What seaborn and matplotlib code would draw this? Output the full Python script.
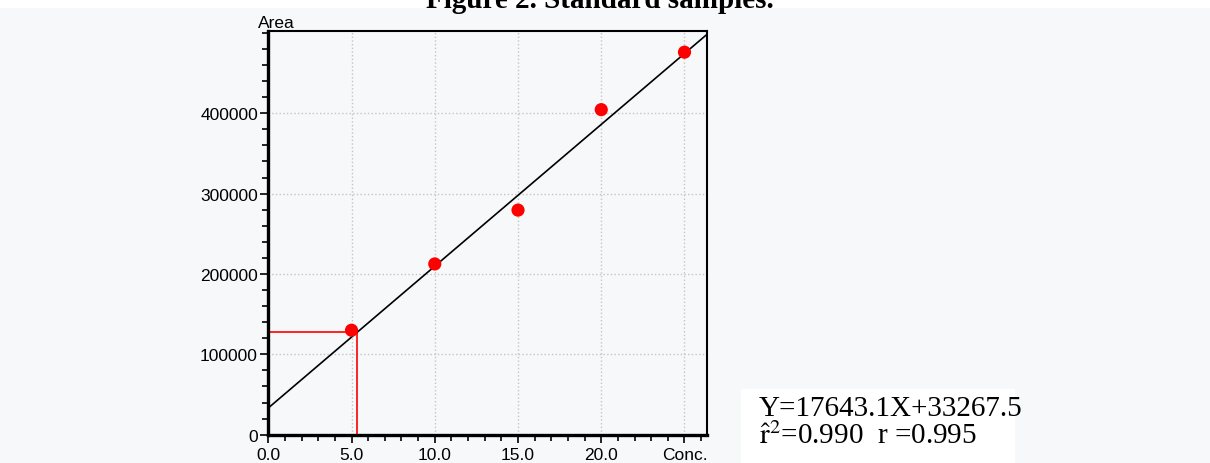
import matplotlib
matplotlib.use("Agg")
from matplotlib import pyplot as plt
from matplotlib.ticker import MultipleLocator, FixedLocator
import matplotlib.patches as mpatches
import pandas as pd
import numpy as np
import seaborn as sns

# standard samples (concentration vs peak area)
conc = [5.0, 10.0, 15.0, 20.0, 25.0]
area = [130000, 212500, 279500, 404500, 476000]

# fitted calibration line from the report
slope = 17643.1
intercept = 33267.5
r2 = 0.990
r = 0.995

# unknown sample
sample_conc = 5.32
sample_area = 127300

x_ticks = [0, 5, 10, 15, 20, 25]
x_labels = ["0.0", "5.0", "10.0", "15.0", "20.0", "Conc."]
y_ticks = [0, 100000, 200000, 300000, 400000]

xmax = 26.37
ymax = 502000

bg = "#f7f8fa"

sns.set_style("ticks")
plt.rcParams["font.family"] = ["Liberation Sans", "DejaVu Sans"]
plt.rcParams["mathtext.fontset"] = "stix"
plt.rcParams["text.color"] = "black"
plt.rcParams["xtick.color"] = "black"
plt.rcParams["ytick.color"] = "black"

fig = plt.figure(figsize=(12.1, 4.64), dpi=100)
fig.patch.set_facecolor("white")
fig.patches.append(mpatches.Rectangle((0, 0), 1, 1 - 9 / 464, transform=fig.transFigure,
                                      facecolor=bg, edgecolor="none", zorder=-10))
fig.patches.append(mpatches.Rectangle((741 / 1210, 0), (1015 - 741) / 1210, 74 / 464,
                                      transform=fig.transFigure, facecolor="white",
                                      edgecolor="none", zorder=-9))

ax = fig.add_axes([268.3 / 1210, 1 - 435.7 / 464, (707.3 - 268.3) / 1210, (435.7 - 32.3) / 464])
ax.set_facecolor(bg)

# regression line
fit = pd.DataFrame({"x": [0, xmax]})
fit["y"] = slope * fit["x"] + intercept
sns.lineplot(data=fit, x="x", y="y", color="black", linewidth=1.2, ax=ax, zorder=3)

# sample lines
ax.plot([0, sample_conc], [sample_area, sample_area], color="red", linewidth=1.2, zorder=2)
ax.plot([sample_conc, sample_conc], [0, sample_area], color="red", linewidth=1.2, zorder=2)

df = pd.DataFrame({"conc": conc, "area": area})
sns.scatterplot(data=df, x="conc", y="area", color="red", s=90, edgecolor="none", ax=ax, zorder=4)

ax.set_xlim(0, xmax)
ax.set_ylim(0, ymax)
ax.xaxis.set_major_locator(FixedLocator(x_ticks))
ax.set_xticklabels(x_labels)
ax.xaxis.set_minor_locator(MultipleLocator(1))
ax.yaxis.set_major_locator(FixedLocator(y_ticks))
ax.set_yticklabels([str(v) for v in y_ticks])
ax.yaxis.set_minor_locator(MultipleLocator(20000))
ax.tick_params(axis="both", which="major", length=6, width=1.2, labelsize=12.5, color="black",
               labelcolor="black")
ax.tick_params(axis="both", which="minor", length=4, width=1.2, color="black")
ax.tick_params(axis="y", which="major", pad=1.5)
ax.tick_params(axis="x", which="major", pad=3)
ax.set_xlabel("")
ax.set_ylabel("")

ax.grid(True, which="major", linestyle=":", color="#c4c4c4", linewidth=1)
ax.set_axisbelow(True)

for side in ["left", "bottom"]:
    ax.spines[side].set_linewidth(2.4)
for side in ["top", "right"]:
    ax.spines[side].set_linewidth(1.5)
for s in ax.spines.values():
    s.set_color("black")

fig.text(258 / 1210, 1 - 28.5 / 464, "Area", ha="left", va="baseline", fontsize=12.5, color="black")

fig.text(600 / 1210, 1 - 8 / 464, "Figure 2. Standard samples.", ha="center", va="baseline",
         fontsize=21, fontweight="bold", color="black", family=["Liberation Serif", "DejaVu Serif"])

fig.text(759 / 1210, 1 - 416 / 464, f"Y={slope}X+{intercept}", ha="left", va="baseline",
         fontsize=21, color="black", family=["Liberation Serif", "DejaVu Serif"])
fig.text(759 / 1210, 1 - 444 / 464, r"$\hat{\mathrm{r}}^{2}$" + f"={r2:.3f}  r ={r:.3f}",
         ha="left", va="baseline", fontsize=21, color="black",
         family=["Liberation Serif", "DejaVu Serif"])

fig.savefig("out.png", dpi=100, facecolor=fig.get_facecolor())
